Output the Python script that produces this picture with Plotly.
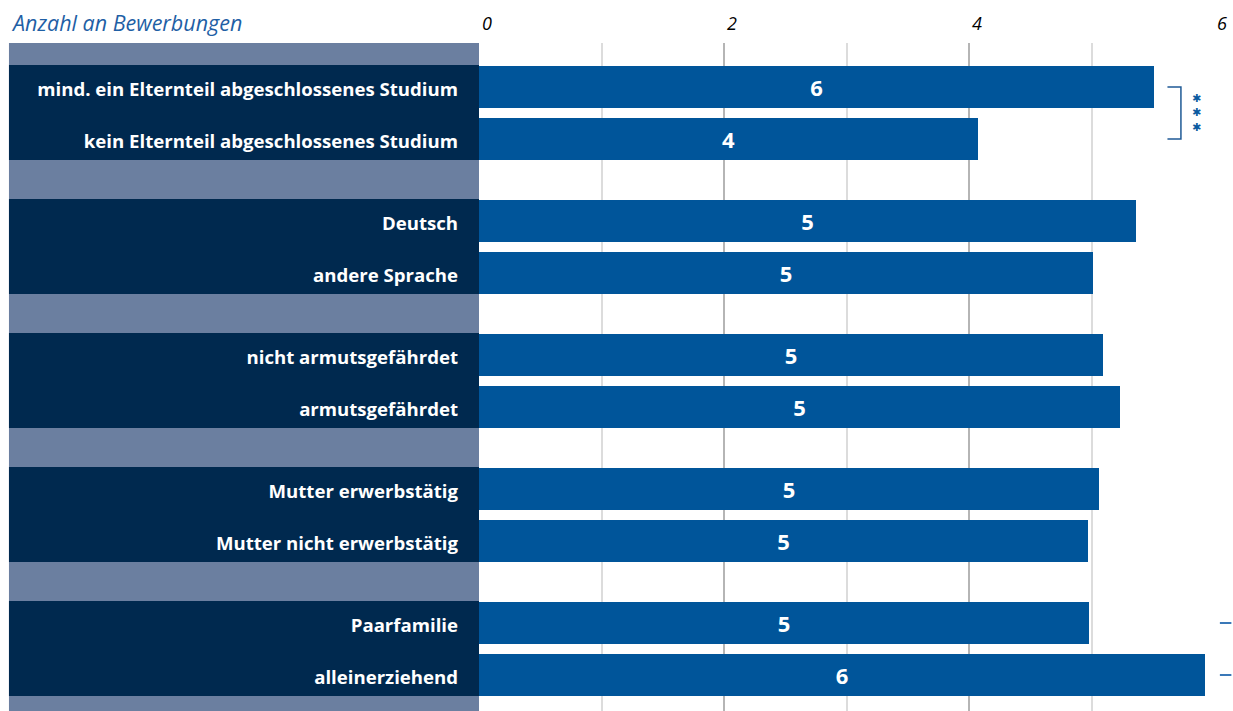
import plotly.graph_objects as go

# Data
categories = [
    "mind. ein Elternteil abgeschlossenes Studium",
    "kein Elternteil abgeschlossenes Studium",
    "Deutsch",
    "andere Sprache",
    "nicht armutsgefährdet",
    "armutsgefährdet",
    "Mutter erwerbstätig",
    "Mutter nicht erwerbstätig",
    "Paarfamilie",
    "alleinerziehend",
]
values = [5.51, 4.07, 5.36, 5.01, 5.09, 5.23, 5.06, 4.97, 4.98, 5.93]
groups = [0, 0, 1, 1, 2, 2, 3, 3, 4, 4]
x_ticks = [0, 2, 4, 6]

# Layout of the rows (pairs of bars separated by a band)
group_step = 2.577
bar_w = 0.81
positions = [g * group_step + (i % 2) for i, g in enumerate(groups)]
labels_text = [str(round(v)) for v in values]

BAR = "#00559A"
DARK = "#00294F"
LIGHT = "#6B7FA0"

fig = go.Figure()
fig.add_trace(go.Bar(
    x=values, y=positions, orientation="h", width=bar_w,
    marker=dict(color=BAR, line=dict(width=0)),
    text=labels_text, textposition="inside", insidetextanchor="middle",
    textfont=dict(color="white", size=22, family="Open Sans", weight="bold"),
    hoverinfo="skip",
))

# left label panel
shapes = [dict(type="rect", xref="paper", yref="paper", x0=-0.6395, x1=0, y0=0, y1=1,
               fillcolor=LIGHT, line=dict(width=0), layer="below")]
for g in sorted(set(groups)):
    ps = [p for p, gg in zip(positions, groups) if gg == g]
    shapes.append(dict(type="rect", xref="paper", yref="y", x0=-0.6395, x1=0,
                       y0=min(ps) - bar_w / 2 - 0.02, y1=max(ps) + bar_w / 2,
                       fillcolor=DARK, line=dict(width=0), layer="below"))

# significance bracket
shapes.append(dict(type="path", xref="x", yref="y",
                   path=f"M 5.62 {positions[0]} L 5.73 {positions[0]} L 5.73 {positions[1]} L 5.62 {positions[1]}",
                   line=dict(color="#1F5A96", width=1.5)))

fig.update_layout(shapes=shapes)

annotations = [dict(text="Anzahl an Bewerbungen", xref="paper", yref="paper",
                    x=-0.6395, y=1.0, yshift=21, xanchor="left", yanchor="middle",
                    showarrow=False,
                    font=dict(family="Open Sans", size=21.5, color="#1F5FA5", style="italic")),
               dict(text="✱<br>✱<br>✱", xref="x", yref="y", x=5.86,
                    y=(positions[0] + positions[1]) / 2, showarrow=False,
                    font=dict(family="DejaVu Sans", size=11, color="#0A5AA0"))]
for p in positions[8:]:
    annotations.append(dict(text="", xref="paper", yref="y", x=1.008, y=p,
                            ax=13, ay=0, axref="pixel", ayref="pixel",
                            showarrow=True, arrowhead=0, arrowwidth=2,
                            arrowcolor="#3A78B8", standoff=0, startstandoff=0))
fig.update_layout(annotations=annotations)

fig.update_layout(
    width=1233, height=711,
    margin=dict(l=479, r=19, t=43, b=0),
    plot_bgcolor="white", paper_bgcolor="white",
    showlegend=False,
    bargap=0,
    xaxis=dict(
        range=[0, 6], side="top", tickvals=x_ticks, ticktext=[str(t) for t in x_ticks],
        showgrid=True, gridcolor="#B5B5B5", gridwidth=2,
        minor=dict(dtick=1, showgrid=True, gridcolor="#DCDCDC", gridwidth=2),
        zeroline=False, showline=False, ticks="",
        ticklabelshift=8, ticklabelstandoff=8,
        tickfont=dict(family="Open Sans", size=18, color="black", style="italic"),
        fixedrange=True,
    ),
    yaxis=dict(
        range=[12.0, -0.846], tickvals=positions, ticktext=categories,
        showgrid=False, zeroline=False, showline=False, ticks="",
        ticklabelstandoff=20, ticklabelshift=-2,
        tickfont=dict(family="Open Sans", size=18.6, color="white", weight="bold"),
        fixedrange=True,
    ),
    uniformtext=dict(minsize=10, mode="show"),
)

# page without body margin so the figure sits at the window's corner
fig.write_html("out.html", config={"displayModeBar": False},
               post_script="document.body.style.margin='0';")
